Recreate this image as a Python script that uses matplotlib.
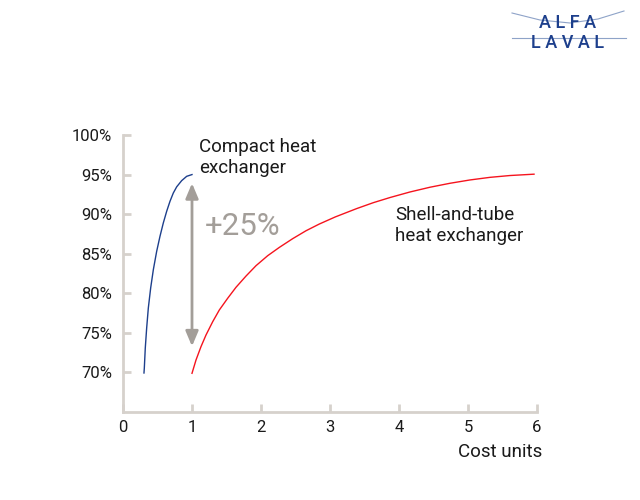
from matplotlib import pyplot as plt
from matplotlib.lines import Line2D

plt.rcParams['font.family'] = ['Roboto', 'DejaVu Sans']

# compact heat exchanger (blue)
compact_x = [0.304, 0.309, 0.323, 0.343, 0.367, 0.401, 0.440, 0.488, 0.536,
             0.584, 0.633, 0.681, 0.729, 0.778, 0.850, 0.923, 1.000]
compact_y = [69.93, 70.56, 73.09, 75.61, 78.14, 80.67, 83.0, 85.3, 87.2,
             88.88, 90.36, 91.62, 92.67, 93.45, 94.23, 94.78, 95.0]

# shell-and-tube heat exchanger (red)
shell_x = [1.000, 1.058, 1.130, 1.203, 1.300, 1.396, 1.517, 1.638, 1.783,
           1.928, 2.097, 2.266, 2.459, 2.652, 2.845, 3.077, 3.386, 3.628,
           3.870, 4.159, 4.449, 4.739, 5.029, 5.319, 5.609, 5.957]
shell_y = [69.89, 71.57, 73.25, 74.73, 76.41, 77.89, 79.37, 80.76, 82.18,
           83.49, 84.75, 85.8, 86.9, 87.9, 88.75, 89.65, 90.7, 91.45,
           92.1, 92.8, 93.4, 93.9, 94.32, 94.65, 94.88, 95.05]

xticks = [0, 1, 2, 3, 4, 5, 6]
yticks = [70, 75, 80, 85, 90, 95, 100]
ylabels = [f'{v}%' for v in yticks]

gap_x = 1.0
gap_lo, gap_hi = 73.3, 93.9

axis_col = '#d6d1cc'
grey = '#a39e99'
text_col = '#1a1a1a'

fig = plt.figure(figsize=(6.4, 5), dpi=100)
ax = fig.add_axes([123 / 640, 88 / 500, 414 / 640, 277 / 500])

ax.plot(compact_x, compact_y, color='#1d3f8c', lw=1.0)
ax.plot(shell_x, shell_y, color='#f5141e', lw=1.0)

ax.annotate('', xy=(gap_x, gap_lo), xytext=(gap_x, gap_hi),
            arrowprops=dict(arrowstyle='<|-|>,head_length=0.9,head_width=0.38',
                            color=grey, lw=2, shrinkA=0, shrinkB=0))
ax.text(1.19, 88.4, '+25%', fontsize=22.5, color=grey, va='center', ha='left')

ax.text(1.1, 97.2, 'Compact heat\nexchanger', fontsize=13.5, color=text_col,
        va='center', ha='left', linespacing=1.2)
ax.text(3.94, 88.57, 'Shell-and-tube\nheat exchanger', fontsize=13.5, color=text_col,
        va='center', ha='left', linespacing=1.2)

ax.set_xlim(0, 6)
ax.set_ylim(65, 100)
ax.set_xticks(xticks)
ax.set_yticks(yticks)
ax.set_yticklabels(ylabels)

for s in ['top', 'right']:
    ax.spines[s].set_visible(False)
for s in ['left', 'bottom']:
    ax.spines[s].set_color(axis_col)
    ax.spines[s].set_linewidth(2)

ax.tick_params(axis='both', direction='in', length=6, width=2, color=axis_col,
               labelsize=12, labelcolor=text_col)
ax.tick_params(axis='y', pad=8)
ax.tick_params(axis='x', pad=6)

ax.text(1.012, -0.144, 'Cost units', transform=ax.transAxes, fontsize=13.5,
        color=text_col, ha='right', va='center')

# logo
logo_col = '#1d3f8c'
fig.add_artist(Line2D([512 / 640, 540 / 640, 570 / 640, 598 / 640, 624 / 640],
                      [1 - 13 / 500, 1 - 20 / 500, 1 - 23 / 500, 1 - 19 / 500, 1 - 11 / 500],
                      color='#8ea3c8', lw=0.8, transform=fig.transFigure))
fig.add_artist(Line2D([512 / 640, 626 / 640], [1 - 38 / 500, 1 - 38 / 500],
                      color='#8ea3c8', lw=0.8, transform=fig.transFigure))
fig.text(568 / 640, 1 - 23 / 500, 'A L F A', fontsize=13, color=logo_col,
         ha='center', va='center', fontweight='medium')
fig.text(568 / 640, 1 - 43.5 / 500, 'L A V A L', fontsize=13, color=logo_col,
         ha='center', va='center', fontweight='medium')

fig.savefig('out.png', dpi=100)
